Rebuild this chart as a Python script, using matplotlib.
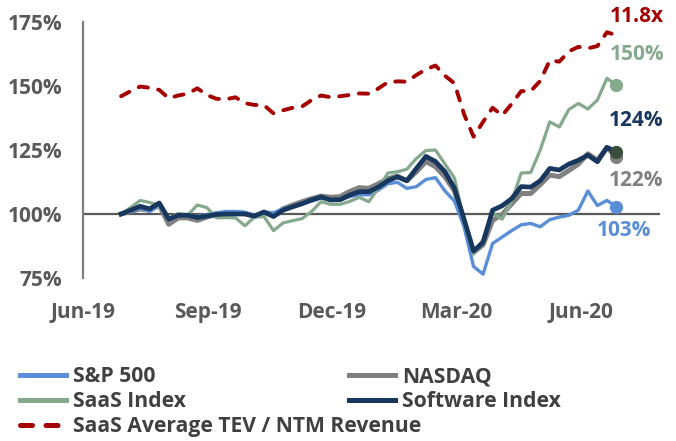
import matplotlib
matplotlib.use("Agg")
import matplotlib.pyplot as plt
import matplotlib.dates as mdates
import pandas as pd
import numpy as np

plt.rcParams['font.family'] = ['Open Sans', 'DejaVu Sans']

dates = pd.date_range('2019-06-29', periods=53, freq='7D')

sp500 = [100, 101, 102.3, 101, 103.3, 98, 99.3, 99.5, 99, 99.8, 100.5, 101, 101, 100.7, 99.5,
         100.8, 100.5, 102, 103, 104, 105, 106.3, 105.5, 105.5, 106.8, 107.5, 107.5, 109.3, 111.8,
         112.4, 110, 110.7, 113.5, 114.2, 109, 105, 95, 79.5, 76.5, 88.5, 91, 93.5, 95.8, 96.3, 95,
         97.8, 98.8, 99.5, 101.5, 109, 103.3, 105.3, 102.9]
nasdaq = [100, 101, 102, 101.5, 103.5, 96, 98.5, 98.5, 97.5, 98.8, 99.8, 100.3, 100.5, 100.2, 99,
          100.5, 99.5, 102, 103.5, 104.8, 106, 107, 106.5, 106.8, 108.8, 110.3, 110, 111.8, 113.8,
          114.8, 113, 116.5, 120.5, 118.5, 114.5, 109, 97, 85, 88, 97.5, 99.8, 104, 108, 108, 111.5,
          115.2, 114.6, 117, 119.5, 123.5, 121, 126, 122.3]
saas = [100, 102.5, 105.3, 104.5, 103.3, 98.3, 100.2, 99.6, 103.5, 102.5, 98.5, 98.6, 98.5, 95.4,
        98.8, 99, 93.5, 96.5, 97.4, 98.2, 101, 104.8, 103.8, 103.8, 104.9, 106.5, 104.8, 110, 116,
        116.5, 117.5, 121.7, 124.8, 125, 119.5, 114, 97, 84.3, 90, 100.4, 98, 105, 116, 116.2, 125,
        136, 134, 140.8, 143.2, 141, 144.5, 153, 150.3]
software = [100, 101.5, 103, 102, 104.3, 98, 99.5, 99.5, 98.6, 99.2, 99.8, 100, 100, 100, 99.2,
            100.8, 99, 101.5, 102.8, 104, 105.5, 106.6, 105.5, 105.6, 107.4, 108.7, 108.7, 110.5,
            113, 114.5, 113, 117.8, 122.5, 120.5, 116.5, 110, 98, 85.5, 89, 101.5, 103.2, 106,
            110.7, 110.5, 113, 117.8, 117.2, 119.5, 121, 123, 120.4, 126, 124.3]
tev_ntm = [146, 148, 149.8, 149.3, 148.5, 145.2, 146.3, 147, 149.1, 146.5, 145, 144.8, 145.6, 143.3,
           142.6, 142.5, 139.3, 140.5, 141.5, 142, 144.5, 146.3, 145.6, 146, 146.5, 147.1, 147, 149,
           151.5, 151.8, 151.7, 154.3, 156.5, 158, 154, 151, 139, 130.2, 136, 141.5, 138.5, 143, 148,
           148, 152, 160, 159.5, 163.5, 165.3, 164.7, 165.6, 171, 169.8]

tick_dates = ['2019-06-01', '2019-09-01', '2019-12-01', '2020-03-01', '2020-06-01']
yticks = [75, 100, 125, 150, 175]

end_labels = ['11.8x', '150%', '124%', '122%', '103%']

C_BLUE = '#5A8FD8'
C_GRAY = '#808080'
C_GREEN = '#84A98C'
C_NAVY = '#17375E'
C_RED = '#A50000'
C_TEXT = '#595959'

fig = plt.figure(figsize=(6.76, 4.41), dpi=100)
ax = fig.add_axes([83/676, 1-278/441, (660-83)/676, (278-22)/441])

ax.axhline(100, color='#595959', lw=1.6, zorder=1)

l_sp, = ax.plot(dates, sp500, color=C_BLUE, lw=2.4, zorder=3, label='S&P 500')
l_nq, = ax.plot(dates, nasdaq, color=C_GRAY, lw=3.6, zorder=2, label='NASDAQ')
l_sa, = ax.plot(dates, saas, color=C_GREEN, lw=2.3, zorder=4, label='SaaS Index')
l_sw, = ax.plot(dates, software, color=C_NAVY, lw=3.4, zorder=5, label='Software Index')
l_tv, = ax.plot(dates, tev_ntm, color=C_RED, lw=2.8, ls=(0, (2.4, 2.7)),
                dash_capstyle='round', zorder=3, label='SaaS Average TEV / NTM Revenue')

ax.plot(dates[-1:], sp500[-1:], 'o', color=C_BLUE, ms=8.5, zorder=6)
ax.plot(dates[-1:], nasdaq[-1:], 'o', color=C_GRAY, ms=8.5, zorder=6)
ax.plot(dates[-1:], saas[-1:], 'o', color=C_GREEN, ms=8.5, zorder=6)
ax.plot(dates[-1:], software[-1:], 'o', color='#3A4E3C', ms=8.5, zorder=7)

ax.set_ylim(75, 175)
ax.set_xlim(pd.Timestamp('2019-06-01'), pd.Timestamp('2020-07-29'))
ax.set_yticks(yticks)
ax.set_yticklabels([f'{v}%' for v in yticks])
ax.set_xticks(pd.to_datetime(tick_dates))
ax.xaxis.set_major_formatter(mdates.DateFormatter('%b-%y'))
ax.tick_params(axis='both', length=0, labelsize=15, labelcolor=C_TEXT)
ax.tick_params(axis='y', pad=15)
ax.tick_params(axis='x', pad=17)
for lab in ax.get_xticklabels() + ax.get_yticklabels():
    lab.set_fontweight('bold')

for s in ['top', 'right', 'bottom']:
    ax.spines[s].set_visible(False)
ax.spines['left'].set_color('#7F7F7F')
ax.spines['left'].set_linewidth(1.6)

def px2date(px):
    return pd.Timestamp('2019-06-01') + pd.Timedelta(days=(px - 84) / 1.355)

def px2pct(py):
    return 100 + (214 - py) / 2.56

lab_pos = [(635, 16, C_RED), (636, 54, C_GREEN), (635, 120, C_NAVY), (635, 181, C_GRAY), (623, 231, C_BLUE)]
for txt, (px, py, col) in zip(end_labels, lab_pos):
    ax.text(px2date(px), px2pct(py), txt, color=col, fontsize=15, fontweight='bold',
            ha='center', va='center', clip_on=False)

leg_kw = dict(frameon=False, prop={'weight': 'bold', 'size': 15.2}, labelcolor='#404040',
              handlelength=2.2, handletextpad=0.3, labelspacing=0.19, borderpad=0,
              borderaxespad=0, loc='upper left')
leg1 = fig.legend([l_sp, l_sa, l_tv], ['S&P 500', 'SaaS Index', 'SaaS Average TEV / NTM Revenue'],
                  bbox_to_anchor=(20/676, 1-366/441), **leg_kw)
leg2 = fig.legend([l_nq, l_sw], ['NASDAQ', 'Software Index'],
                  bbox_to_anchor=(349/676, 1-366/441), **leg_kw)
for leg in (leg1, leg2):
    for h in leg.legend_handles:
        h.set_linewidth(3.6)

fig.savefig('out.png', dpi=100)
